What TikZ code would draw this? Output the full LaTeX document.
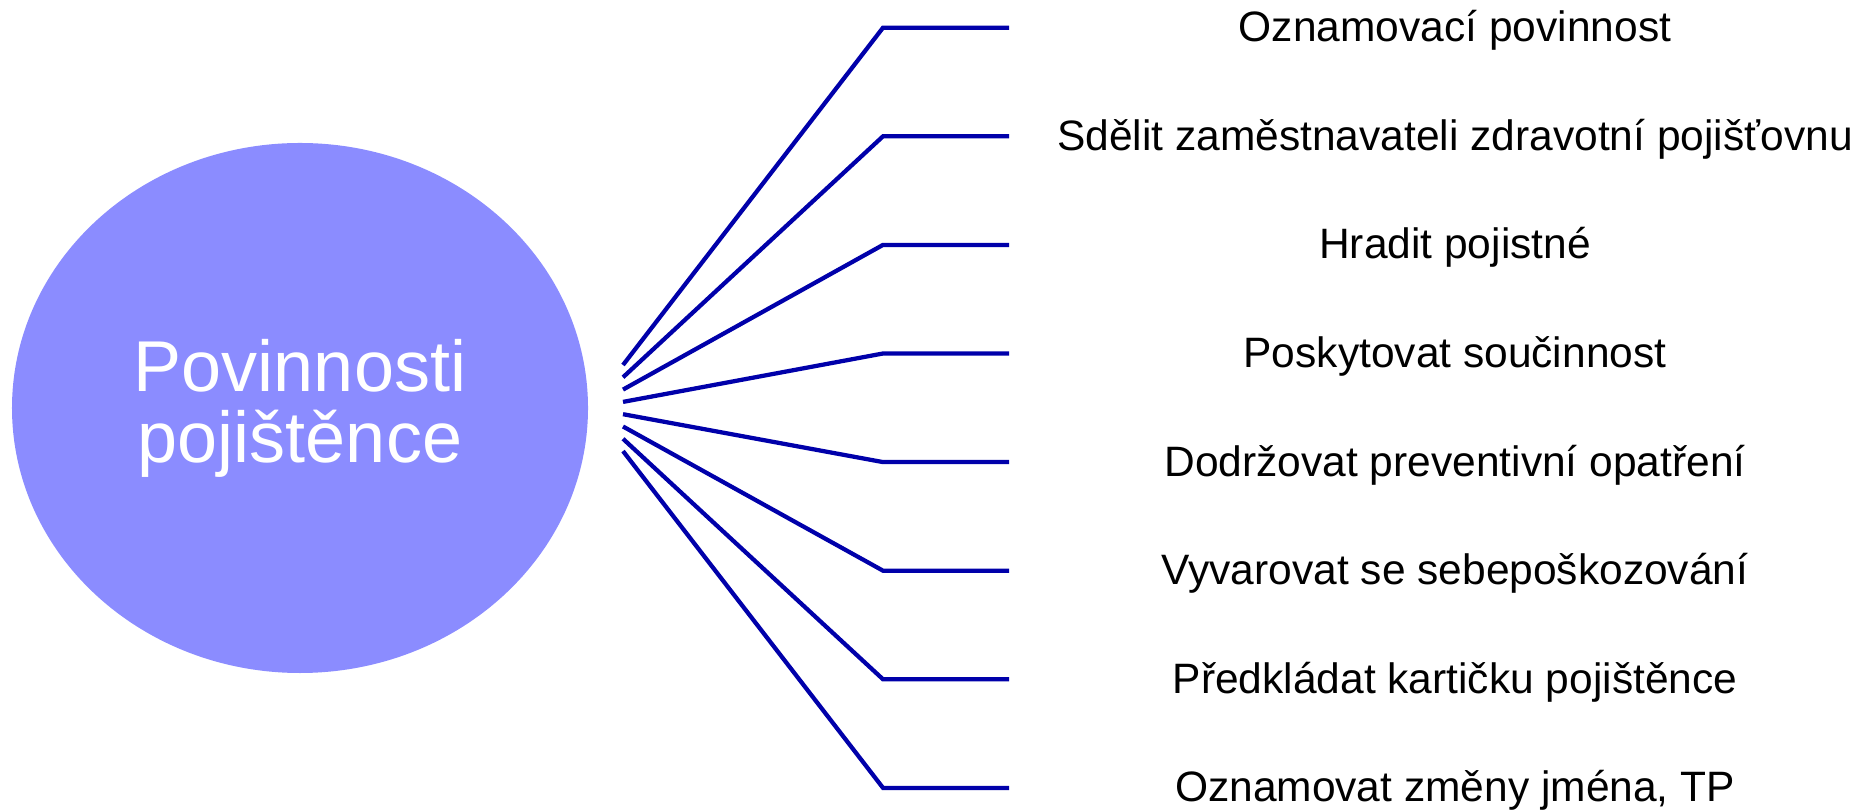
\documentclass[tikz,border=0pt]{standalone}
\usepackage{fontspec}
\setmainfont{Liberation Sans}
\usetikzlibrary{shapes.geometric}
\definecolor{hubfill}{RGB}{139,140,255}
\definecolor{linkblue}{RGB}{0,0,170}
\begin{document}
\begin{tikzpicture}[x=0.4pt,y=-0.4pt,
  hub/.style={ellipse,fill=hubfill,draw=none,minimum width=230.4pt,minimum height=212pt,inner sep=0pt,
    text=white,align=center,font=\fontsize{28.8}{28.4}\selectfont},
  link/.style={draw=linkblue,line width=1.7pt,line join=miter},
  lbl/.style={anchor=base,inner sep=0pt,font=\fontsize{17}{20}\selectfont,text=black}]
\useasboundingbox (0,0) rectangle (1863,810);
\node[hub] (hub) at (300,408) {Povinnosti\\pojištěnce};
\foreach \i/\t in {0/{Oznamovací povinnost},
                   1/{Sdělit zaměstnavateli zdravotní pojišťovnu},
                   2/{Hradit pojistné},
                   3/{Poskytovat součinnost},
                   4/{Dodržovat preventivní opatření},
                   5/{Vyvarovat se sebepoškozování},
                   6/{Předkládat kartičku pojištěnce},
                   7/{Oznamovat změny jména, TP}}{
  \pgfmathsetmacro{\ys}{365+12.3*\i}
  \pgfmathsetmacro{\ye}{27.7+108.6*\i}
  \coordinate (s\i) at (623,\ys);
  \coordinate (c\i) at (883,\ye);
  \coordinate (e\i) at (1009,\ye);
  \node[lbl] (l\i) at (1455,\ye+14) {\t};
  \draw[link] (s\i) -- (c\i) -- (e\i);
}
\end{tikzpicture}
\end{document}
